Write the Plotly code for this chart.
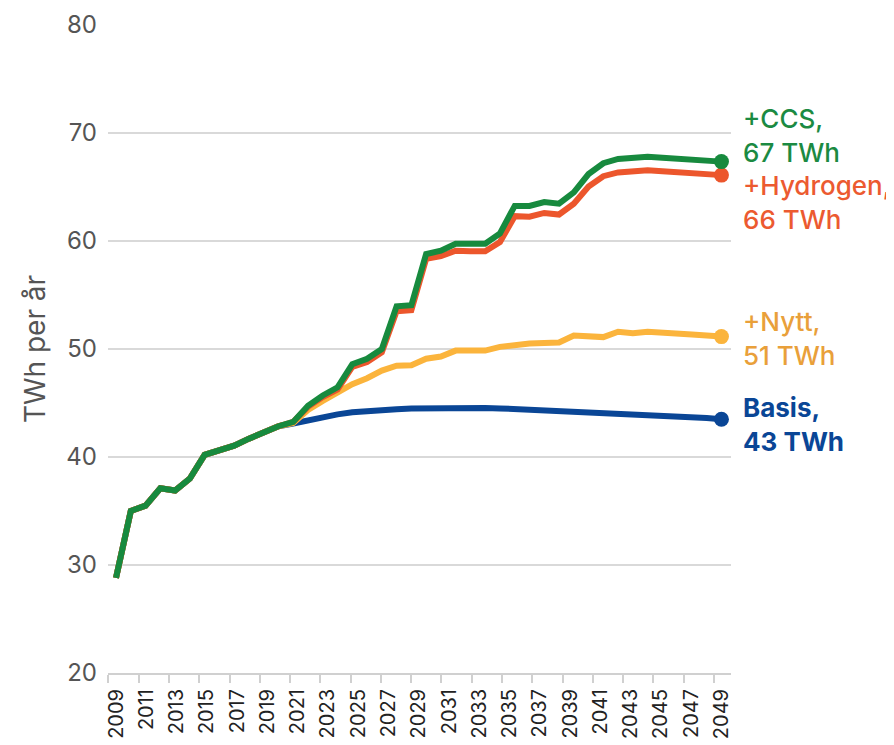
import plotly.graph_objects as go

# data years (42 annual points) and the axis label years shown under the chart
data_years = list(range(2009, 2051))
label_years = list(range(2009, 2050, 2))

history = [28.8, 35.0, 35.5, 37.1, 36.9, 38.0, 40.2, 40.65, 41.05, 41.7, 42.35, 42.85]

ccs_future = [43.25, 44.75, 45.7, 46.45, 48.6, 49.1, 50.0, 53.95, 54.05, 58.8,
              59.1, 59.75, 59.75, 59.75, 60.7, 63.25, 63.25, 63.6, 63.45, 64.5,
              66.2, 67.2, 67.6, 67.7, 67.8, 67.7, 67.6, 67.55, 67.45, 67.35]
hydrogen_future = [43.25, 44.65, 45.55, 46.25, 48.35, 48.8, 49.7, 53.5, 53.6, 58.35,
                   58.6, 59.1, 59.05, 59.05, 59.9, 62.3, 62.25, 62.6, 62.45, 63.45,
                   65.05, 66.0, 66.35, 66.45, 66.55, 66.45, 66.35, 66.3, 66.2, 66.1]
nytt_future = [43.15, 44.35, 45.2, 46.0, 46.75, 47.3, 48.0, 48.45, 48.5, 49.1,
               49.3, 49.85, 49.85, 49.85, 50.2, 50.4, 50.5, 50.55, 50.6, 51.25,
               51.2, 51.1, 51.6, 51.45, 51.6, 51.55, 51.45, 51.35, 51.25, 51.15]
basis_future = [43.1, 43.4, 43.7, 43.95, 44.15, 44.27, 44.37, 44.43, 44.48, 44.51,
                44.54, 44.56, 44.56, 44.54, 44.5, 44.44, 44.37, 44.31, 44.26, 44.22,
                44.2, 44.15, 44.09, 44.03, 43.97, 43.9, 43.81, 43.72, 43.62, 43.5]

basis = history + basis_future
nytt = history + nytt_future
hydrogen = history + hydrogen_future
ccs = history + ccs_future

series_names = ["Basis", "+Nytt", "+Hydrogen", "+CCS"]
end_labels = ["Basis,<br>43 TWh", "+Nytt,<br>51 TWh", "+Hydrogen,<br>66 TWh", "+CCS,<br>67 TWh"]
y_tick_vals = [20, 30, 40, 50, 60, 70, 80]

line_colors = ["#0a4696", "#fbb43c", "#ec562c", "#178a3e"]
text_colors = ["#0a4696", "#e9a03a", "#ec5a30", "#1b8a42"]
label_y = [43.05, 51.0, 63.6, 69.8]

# the labelled axis spans the same width as the 42 data points
span = label_years[-1] - label_years[0]
x_pos = [data_years[0] + (y - data_years[0]) * span / (data_years[-1] - data_years[0])
         for y in data_years]

FONT = "Inter, Roboto, Arial, sans-serif"

fig = go.Figure()
for name, vals, col in zip(series_names, [basis, nytt, hydrogen, ccs], line_colors):
    fig.add_trace(go.Scatter(x=x_pos, y=vals, mode="lines", name=name,
                             line=dict(color=col, width=6), showlegend=False,
                             hoverinfo="skip"))
for name, vals, col in zip(series_names, [basis, nytt, hydrogen, ccs], line_colors):
    fig.add_trace(go.Scatter(x=[x_pos[-1]], y=[vals[-1]], mode="markers",
                             marker=dict(color=col, size=15), showlegend=False,
                             hoverinfo="skip"))

for txt, col, ly, bold in zip(end_labels, text_colors, label_y, [True, False, False, False]):
    fig.add_annotation(x=x_pos[-1], y=ly, xref="x", yref="y",
                       text=(f"<b>{txt}</b>" if bold else txt),
                       showarrow=False, xanchor="left", yanchor="middle", align="left",
                       xshift=20, font=dict(family=FONT, size=26, color=col,
                                            weight=(700 if bold else 500)))

fig.update_layout(
    width=886, height=737,
    margin=dict(l=100, r=163, t=17, b=72, autoexpand=False),
    paper_bgcolor="white", plot_bgcolor="white",
    font=dict(family=FONT),
)
fig.update_yaxes(range=[20, 80], tickvals=y_tick_vals, showgrid=True, automargin=False,
                 gridcolor="#d9d9d9", gridwidth=2, zeroline=False, showline=False,
                 ticks="", ticklabelstandoff=10,
                 tickfont=dict(family=FONT, size=24, color="#555555"),
                 title=dict(text="TWh per år", standoff=12,
                            font=dict(family=FONT, size=28, color="#555555")))
fig.update_xaxes(range=[label_years[0] - 0.53, label_years[-1] + 0.63], tickvals=label_years,
                 ticktext=[str(y) for y in label_years], tickangle=-90, automargin=False,
                 showgrid=False, zeroline=False, showline=True, linecolor="#d0d0d0",
                 linewidth=2, ticks="", ticklabelstandoff=6,
                 tickfont=dict(family=FONT, size=20, color="#222222"),
                 minor=dict(tickvals=[y - 0.5 for y in label_years], ticks="outside",
                            ticklen=8, tickwidth=2, tickcolor="#d0d0d0", showgrid=False))

fig.write_html("out.html")
